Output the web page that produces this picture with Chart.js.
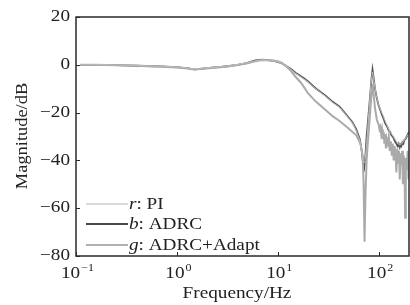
<!DOCTYPE html>
<html>
<head>
<meta charset="utf-8">
<script src="https://cdn.jsdelivr.net/npm/chart.js@4/dist/chart.umd.min.js"></script>
<style>
  html, body { margin: 0; padding: 0; background: #fff; }
  #wrap { width: 410px; height: 305px; }
</style>
</head>
<body>
<div id="wrap"><canvas id="bode"></canvas></div>
<script>
// axis ticks
const yTicks = [20, 0, -20, -40, -60, -80];
const xTicks = [0.1, 1, 10, 100];
const xTickExp = ['\u22121', '0', '1', '2'];

// r: PI
const freqPI = [0.11,0.2,0.4,0.7,1.0,1.5,2.2,3.3,5,7,10,12,15,20,24,30,35,41,47,55,60,65,70,73,76,80,84,87,90,95,100,110,120,130,140,150,160,170,180,190,200];
const magPI = [0,0,-0.3,-0.6,-0.9,-1.7,-1.1,-0.4,0.9,2.1,1.3,-0.3,-3.5,-7.2,-10.2,-13.3,-15.8,-17.8,-20.7,-24.3,-27.5,-31.5,-40,-41,-33,-20,-8,-3,-7,-13,-17,-21,-25,-28,-30,-32,-33.5,-33,-31.5,-30,-28.5];

// b: ADRC
const freqADRC = [0.11,0.15,0.2,0.3,0.4,0.5,0.7,1.0,1.3,1.5,1.8,2.2,2.7,3.3,4,5,6,7,8,9,10,11,12,13.5,15,18,20,24,30,35,41,47,55,60,65,68,70,72,74,76,79,82,85,87,89,92,96,100,104,108,112,115,118,122,126,130,134,138,142,145,150,154,158,162,165,168,172,176,180,185,190,195,200];
const magADRC = [0,0,0,-0.2,-0.4,-0.5,-0.7,-1.0,-1.5,-1.9,-1.6,-1.2,-0.9,-0.5,0,0.8,1.8,2.2,2.0,1.6,1.2,0.6,-0.4,-1.8,-3.3,-5.5,-7,-10,-13,-15.5,-17.5,-20.5,-24,-27,-31,-36,-41,-43,-38,-30,-22,-14,-6,-2,-5,-10,-14,-17,-19,-21,-22.5,-24,-25,-26,-27.5,-28,-29.5,-30,-31,-32,-33,-34,-33,-34.5,-33.5,-34,-32.5,-33,-31.5,-31,-30,-29,-28];

// g: ADRC+Adapt
const freqAdapt = [0.11,0.15,0.2,0.3,0.4,0.5,0.7,1.0,1.3,1.5,1.8,2.2,2.7,3.3,4,5,6,7,8,9,10,11,12,13.5,15,17,20,24,30,35,41,50,60,66,69.5,71,72.5,74,76,78,80,83,86,87.5,89,92,96,100,102,104,106,108,110,112,114,116,118,120,123,126,129,132,135,138,141,144,147,150,153,156,159,162,165,168,171,174,177,180,183,186,190,194,198,200];
const magAdapt = [0,0,-0.1,-0.3,-0.4,-0.6,-0.8,-1.1,-1.6,-2.0,-1.7,-1.3,-1.0,-0.6,-0.1,0.6,1.5,2.0,1.9,1.8,1.5,0.8,-0.5,-2.5,-5,-7.5,-12,-15.5,-19,-21.5,-23.5,-26.5,-29.5,-33,-38,-50,-74,-55,-40,-33,-27,-18,-10,-8,-12,-18,-23,-25,-27,-26,-29,-27,-31,-28,-33,-29,-35,-31,-33,-30,-36,-32,-38,-33,-40,-34,-37,-45,-35,-41,-36,-48,-37,-42,-36,-50,-38,-40,-64,-39,-44,-36,-48,-40];

const pts = (f, m) => f.map((v, i) => ({ x: v, y: m[i] }));

const SERIF = '"Liberation Serif", "Times New Roman", serif';
const SX = 1.2; // the scan's lettering is wide

const stretchText = (ctx, text, x, y, align, font, sx) => {
  ctx.save();
  ctx.font = font;
  ctx.translate(x, y);
  ctx.scale(sx, 1);
  ctx.textAlign = align;
  ctx.fillText(text, 0, 0);
  ctx.restore();
};

// draws text runs one after another from x
const drawRuns = (ctx, runs, x, y, sx) => {
  runs.forEach(r => {
    ctx.save();
    ctx.font = r.f;
    ctx.translate(x, y);
    ctx.scale(sx, 1);
    ctx.textAlign = 'left';
    ctx.fillText(r.t, 0, 0);
    x += ctx.measureText(r.t).width * sx;
    ctx.restore();
  });
};

const frame = {
  id: 'frame',
  afterDatasetsDraw(chart) {
    const { ctx, chartArea: a, scales } = chart;
    const xs = scales.x, ys = scales.y;
    ctx.save();
    ctx.strokeStyle = '#2a2a2a';
    ctx.lineWidth = 1.5;
    ctx.strokeRect(a.left, a.top, a.right - a.left, a.bottom - a.top);

    // inward ticks
    ctx.lineWidth = 1;
    ctx.beginPath();
    yTicks.forEach(v => {
      const y = Math.round(ys.getPixelForValue(v)) + 0.5;
      ctx.moveTo(a.left, y);
      ctx.lineTo(a.left + 4, y);
    });
    xTicks.forEach(v => {
      const x = Math.round(xs.getPixelForValue(v)) + 0.5;
      ctx.moveTo(x, a.bottom);
      ctx.lineTo(x, a.bottom - 4);
    });
    ctx.stroke();

    ctx.fillStyle = '#222';
    ctx.textBaseline = 'middle';
    yTicks.forEach(v => {
      const label = v < 0 ? '\u2212' + Math.abs(v) : String(v);
      stretchText(ctx, label, a.left - 6, ys.getPixelForValue(v), 'right', '16px ' + SERIF, SX);
    });

    ctx.textBaseline = 'alphabetic';
    xTicks.forEach((v, i) => {
      const x = xs.getPixelForValue(v);
      ctx.font = '16px ' + SERIF;
      const w1 = ctx.measureText('10').width * SX;
      ctx.font = '10px ' + SERIF;
      const w2 = ctx.measureText(xTickExp[i]).width * SX;
      const x0 = x - (w1 + w2) / 2 + 1;
      stretchText(ctx, '10', x0, 278, 'left', '16px ' + SERIF, SX);
      stretchText(ctx, xTickExp[i], x0 + w1 + 1, 271, 'left', '10px ' + SERIF, SX);
    });

    stretchText(ctx, 'Frequency/Hz', 237, 298, 'center', '16px ' + SERIF, SX);

    ctx.save();
    ctx.translate(27, 136);
    ctx.rotate(-Math.PI / 2);
    stretchText(ctx, 'Magnitude/dB', 0, 0, 'center', '16px ' + SERIF, 1.15);
    ctx.restore();

    // legend
    const leg = [
      { c: '#b4b4b4', w: 1, y: 204, runs: [{ t: 'r', f: 'italic 16px ' + SERIF }, { t: ': PI', f: '16px ' + SERIF }] },
      { c: '#4a4a4a', w: 2.2, y: 224, runs: [{ t: 'b', f: 'italic 16px ' + SERIF }, { t: ': ADRC', f: '16px ' + SERIF }] },
      { c: '#b0b0b0', w: 2, y: 245, runs: [{ t: 'g', f: 'italic 16px ' + SERIF }, { t: ': ADRC+Adapt', f: '16px ' + SERIF }] }
    ];
    leg.forEach(l => {
      ctx.strokeStyle = l.c;
      ctx.lineWidth = l.w;
      ctx.beginPath();
      ctx.moveTo(a.left + 10, l.y);
      ctx.lineTo(a.left + 52, l.y);
      ctx.stroke();
      ctx.textBaseline = 'middle';
      drawRuns(ctx, l.runs, a.left + 53, l.y + 1, SX);
    });
    ctx.restore();
  }
};

new Chart(document.getElementById('bode').getContext('2d'), {
  type: 'line',
  data: {
    datasets: [
      { label: 'r: PI', data: pts(freqPI, magPI), borderColor: '#bdbdbd', borderWidth: 1, order: 0 },
      { label: 'g: ADRC+Adapt', data: pts(freqAdapt, magAdapt), borderColor: '#aaaaaa', borderWidth: 2, order: 1 },
      { label: 'b: ADRC', data: pts(freqADRC, magADRC), borderColor: '#555555', borderWidth: 1.8, order: 2 }
    ]
  },
  options: {
    responsive: true,
    maintainAspectRatio: false,
    animation: false,
    layout: { padding: { left: 76, top: 17, right: 1, bottom: 49 } },
    elements: { point: { radius: 0 }, line: { tension: 0 } },
    plugins: { legend: { display: false }, tooltip: { enabled: false } },
    scales: {
      x: { type: 'logarithmic', min: 0.1, max: 200, display: false },
      y: { type: 'linear', min: -80, max: 20, display: false }
    }
  },
  plugins: [frame]
});
</script>
</body>
</html>
